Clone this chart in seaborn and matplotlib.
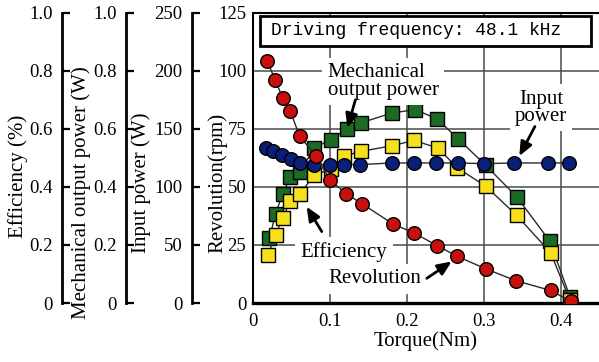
import matplotlib
matplotlib.use("Agg")
import matplotlib.pyplot as plt
import seaborn as sns
import pandas as pd
from matplotlib.patches import Rectangle

# ---------------- data ----------------
torque_rev = [0.019, 0.029, 0.039, 0.049, 0.061, 0.082, 0.100, 0.121, 0.142,
              0.182, 0.209, 0.239, 0.265, 0.302, 0.341, 0.386, 0.412]
revolution = [104.4, 96.2, 88.4, 82.6, 71.8, 63.5, 53.1, 47.1, 42.7,
              34.0, 30.2, 24.7, 20.1, 14.7, 9.6, 5.4, 0.7]

torque_in = [0.017, 0.027, 0.038, 0.050, 0.061, 0.080, 0.100, 0.118, 0.139,
             0.181, 0.209, 0.237, 0.266, 0.300, 0.339, 0.382, 0.410]
input_power = [133.6, 130.6, 127.8, 124.2, 120.6, 119.2, 119.2, 119.2, 119.2,
               120.6, 120.6, 120.6, 120.6, 120.0, 120.6, 120.6, 120.6]

torque_mech = [0.022, 0.030, 0.039, 0.049, 0.061, 0.080, 0.101, 0.122, 0.141,
               0.181, 0.211, 0.239, 0.266, 0.302, 0.342, 0.385, 0.411]
mech_power = [0.224, 0.308, 0.377, 0.433, 0.450, 0.534, 0.563, 0.598, 0.621,
              0.655, 0.666, 0.634, 0.566, 0.474, 0.366, 0.213, 0.021]

torque_eff = [0.020, 0.030, 0.039, 0.049, 0.061, 0.080, 0.101, 0.119, 0.140,
              0.181, 0.209, 0.240, 0.265, 0.302, 0.342, 0.386, 0.411]
efficiency = [0.166, 0.235, 0.293, 0.350, 0.374, 0.442, 0.460, 0.506, 0.522,
              0.542, 0.560, 0.534, 0.466, 0.402, 0.302, 0.173, 0.010]

x_ticks = [0, 0.1, 0.2, 0.3, 0.4]
x_tick_labels = ["0", "0.1", "0.2", "0.3", "0.4"]
rev_ticks = [0, 25, 50, 75, 100, 125]
rev_tick_labels = ["0", "25", "50", "75", "100", "125"]
unit_ticks = [0, 0.2, 0.4, 0.6, 0.8, 1.0]
unit_tick_labels = ["0", "0.2", "0.4", "0.6", "0.8", "1.0"]
in_ticks = [0, 50, 100, 150, 200, 250]
in_tick_labels = ["0", "50", "100", "150", "200", "250"]

title_text = "Driving frequency: 48.1 kHz"

# ---------------- style ----------------
sns.set_theme(style="white")
plt.rcParams["font.family"] = ["Liberation Serif", "DejaVu Serif"]
plt.rcParams["axes.edgecolor"] = "black"

RED = "#c8100e"
BLUE = "#0c1f78"
GREEN = "#1c6a24"
YELLOW = "#f6e01e"
LINE = "#2a2a2a"

fig = plt.figure(figsize=(5.99, 3.62), dpi=100)
rect = [252.5 / 599, (362 - 303) / 362, (599 - 252.5) / 599, (303 - 12.7) / 362]
ax = fig.add_axes(rect)
ax.set_zorder(0)

ax.set_xlim(0, 0.4486)
ax.set_ylim(0, 125)
ax.set_xticks(x_ticks, x_tick_labels)
ax.set_yticks(rev_ticks, rev_tick_labels)
ax.tick_params(axis="both", length=0, labelsize=13.5, colors="black")
ax.tick_params(axis="x", pad=7)
ax.tick_params(axis="y", pad=4.5)
ax.grid(True, color="#4a4a4a", lw=1.1)
ax.set_axisbelow(True)
ax.spines["right"].set_visible(False)
ax.spines["left"].set_linewidth(1.5)
ax.spines["top"].set_linewidth(1.5)
ax.spines["bottom"].set_linewidth(2.4)
ax.set_xlabel("Torque(Nm)", fontsize=15, labelpad=1, color="black")
ax.set_ylabel("Revolution(rpm)", fontsize=15, color="black")
ax.yaxis.set_label_coords((227 - 252.5) / 346.5, (303 - 183) / 290)

# title box
ax.add_patch(Rectangle((0.022, 0.886), 0.955, 0.104, transform=ax.transAxes,
                       facecolor="white", edgecolor="black", lw=2, zorder=5))
ax.text(0.473, 0.938, title_text, transform=ax.transAxes, ha="center",
        va="center", fontsize=13, family=["Liberation Mono", "DejaVu Sans Mono"],
        zorder=6, color="black")


def side_axis(z, pos, ylim, ticks, labels, label, label_x, label_y):
    a = ax.twinx()
    a.set_zorder(z)
    a.patch.set_visible(False)
    a.set_ylim(*ylim)
    for s in ["right", "top", "bottom"]:
        a.spines[s].set_visible(False)
    a.spines["left"].set_visible(True)
    a.spines["left"].set_position(("axes", pos))
    a.spines["left"].set_linewidth(2)
    a.yaxis.set_ticks_position("left")
    a.yaxis.set_label_position("left")
    a.set_yticks(ticks, labels)
    a.tick_params(axis="y", direction="in", length=6, width=1.6, pad=6.5,
                  labelsize=13.5, colors="black")
    a.set_ylabel(label, fontsize=15, color="black")
    a.yaxis.set_label_coords((label_x - 252.5) / 346.5, (303 - label_y) / 290)
    a.grid(False)
    return a


ax_mech = side_axis(1, (126 - 252.5) / 346.5, (0, 1), unit_ticks, unit_tick_labels,
                    "Mechanical output power (W)", 91, 193)
ax_eff = side_axis(2, (61.7 - 252.5) / 346.5, (0, 1), unit_ticks, unit_tick_labels,
                   "Efficiency (%)", 28, 177)
ax_in = side_axis(3, (191.7 - 252.5) / 346.5, (0, 250), in_ticks, in_tick_labels,
                  "Input power (W)", 151, 183)

ax_rev = fig.add_axes(rect, sharex=ax, sharey=ax)
ax_rev.set_zorder(4)
ax_rev.patch.set_visible(False)
ax_rev.axis("off")

mk = dict(markersize=9.8, markeredgecolor="black", markeredgewidth=1.0)

df_mech = pd.DataFrame({"t": torque_mech, "v": mech_power})
sns.lineplot(data=df_mech, x="t", y="v", ax=ax_mech, color=LINE, lw=1.0,
             marker="s", markerfacecolor=GREEN, **mk)
df_eff = pd.DataFrame({"t": torque_eff, "v": efficiency})
sns.lineplot(data=df_eff, x="t", y="v", ax=ax_eff, color=LINE, lw=1.0,
             marker="s", markerfacecolor=YELLOW, **mk)
df_in = pd.DataFrame({"t": torque_in, "v": input_power})
sns.lineplot(data=df_in, x="t", y="v", ax=ax_in, color=LINE, lw=1.0,
             marker="o", markerfacecolor=BLUE, **mk)
df_rev = pd.DataFrame({"t": torque_rev, "v": revolution})
sns.lineplot(data=df_rev, x="t", y="v", ax=ax_rev, color=LINE, lw=1.0,
             marker="o", markerfacecolor=RED, **mk)

for a in (ax_mech, ax_eff, ax_in):
    a.set_xlabel("")
ax_rev.set_xlim(0, 0.4486)
ax_rev.set_ylim(0, 125)

# annotations
arrow = dict(arrowstyle="-|>,head_length=0.7,head_width=0.3", lw=2,
             color="black", shrinkA=0, shrinkB=0)
box = dict(boxstyle="square,pad=0.25", fc="white", ec="none")
ax_rev.text(0.377, 0.764, "Mechanical\noutput power", transform=ax_rev.transAxes,
            ha="center", va="center", multialignment="left", fontsize=15,
            linespacing=0.9, bbox=box, color="black")
ax_rev.annotate("", xy=(0.274, 0.603), xytext=(0.297, 0.700),
                xycoords="axes fraction", textcoords="axes fraction", arrowprops=arrow)
ax_rev.text(0.833, 0.672, "Input\npower", transform=ax_rev.transAxes, ha="center",
            va="center", multialignment="center", fontsize=15, linespacing=0.9,
            bbox=box, color="black")
ax_rev.annotate("", xy=(0.770, 0.506), xytext=(0.815, 0.608),
                xycoords="axes fraction", textcoords="axes fraction", arrowprops=arrow)
ax_rev.text(0.264, 0.176, "Efficiency", transform=ax_rev.transAxes, ha="center",
            va="center", fontsize=15, bbox=box, color="black")
ax_rev.annotate("", xy=(0.156, 0.332), xytext=(0.200, 0.246),
                xycoords="axes fraction", textcoords="axes fraction", arrowprops=arrow)
ax_rev.text(0.352, 0.083, "Revolution", transform=ax_rev.transAxes, ha="center",
            va="center", fontsize=15, bbox=box, color="black")
ax_rev.annotate("", xy=(0.575, 0.143), xytext=(0.503, 0.085),
                xycoords="axes fraction", textcoords="axes fraction", arrowprops=arrow)

fig.savefig("out.png", dpi=100, facecolor="white")
